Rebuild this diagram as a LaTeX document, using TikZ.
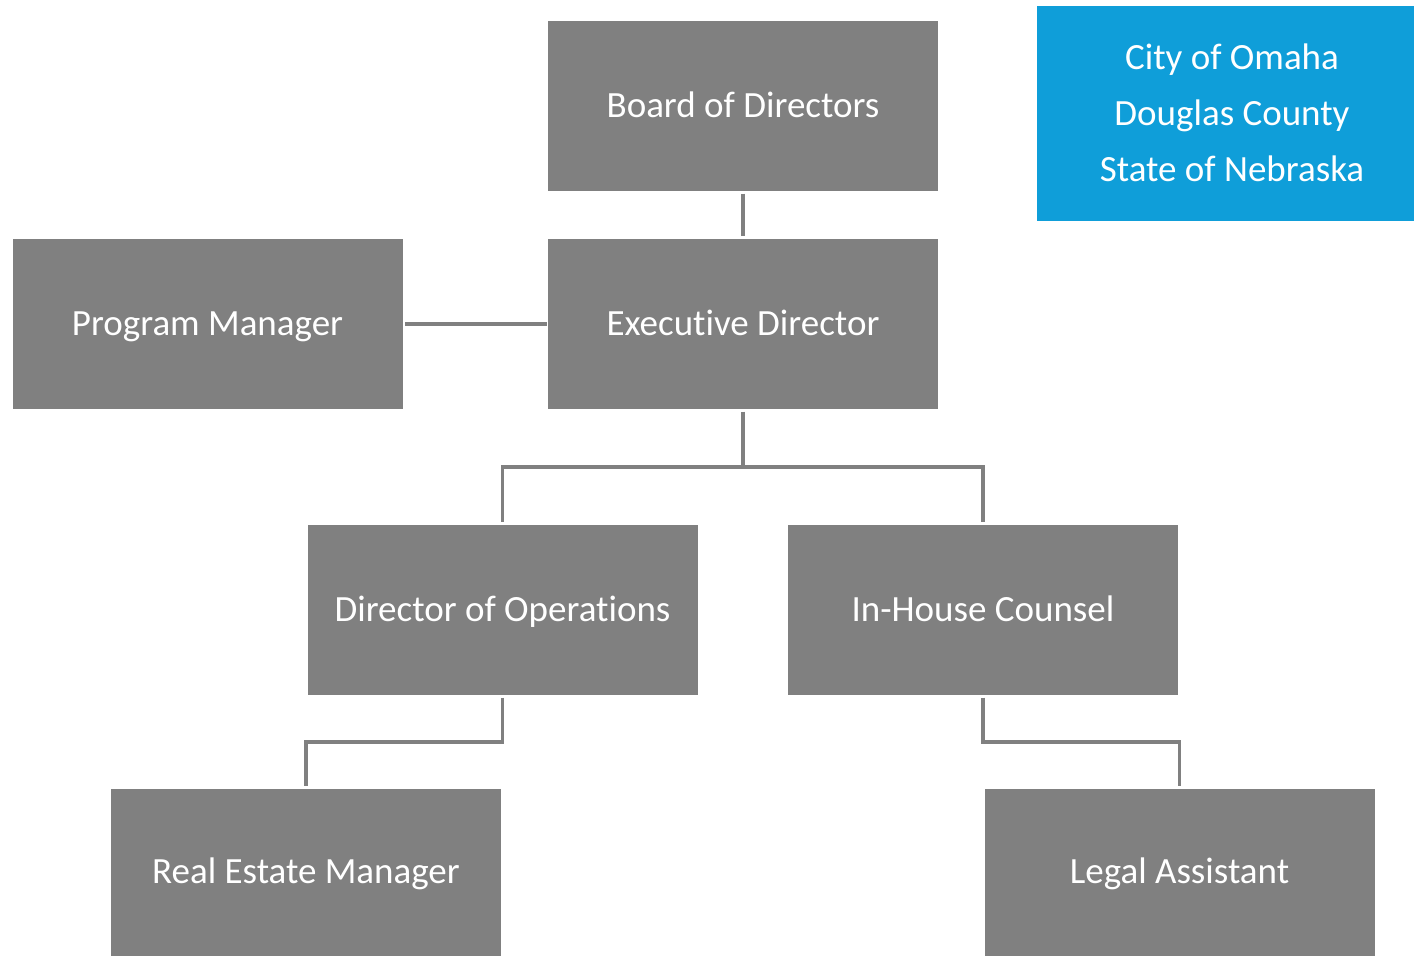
\documentclass[tikz,border=0pt]{standalone}
\usepackage{fontspec}
\setmainfont{Carlito}[Ligatures={NoCommon}]
\begin{document}
\begin{tikzpicture}[x=1pt,y=-1pt,
  role/.style={fill=boxgray,draw=none,minimum width=390pt,minimum height=170pt,
    text=white,font=\fontsize{37}{44}\selectfont,inner sep=0pt,
    text height=26pt,text depth=4pt},
  link/.style={draw=boxgray,line width=3.5pt},
]
\definecolor{boxgray}{HTML}{808080}
\definecolor{govblue}{HTML}{0F9ED9}
\useasboundingbox (0,0) rectangle (1414,956);
% boxes (centres in pixel units)
\node[role] (board) at (743,106) {Board of Directors};
\node[role] (exec)  at (743,324) {Executive Director};
\node[role] (pm)    at (207.5,324) {Program Manager};
\node[role] (ops)   at (502.5,610) {Director of Operations};
\node[role] (ihc)   at (983,610) {In-House Counsel};
\node[role,minimum height=167pt] (rem) at (306,872.5) {Real Estate Manager};
\node[role,minimum height=167pt] (legal) at (1179.5,872.5) {Legal Assistant};
% government partners box
\node[fill=govblue,minimum width=377pt,minimum height=215pt,inner sep=0pt] (gov) at (1225.5,113.5) {};
\node[text=white,font=\fontsize{37}{56}\selectfont,align=center,inner sep=0pt] (govtext) at (1232,113)
  {City of Omaha\\Douglas County\\State of Nebraska};
% connectors
\coordinate (split) at (743,467);
\coordinate (opsbend) at (502.5,742);
\coordinate (ihcbend) at (983,742);
\draw[link,shorten <=2.5pt,shorten >=2.5pt] (board.south) -- (exec.north);
\draw[link,shorten <=2.5pt,shorten >=1pt] (pm.east) -- (exec.west);
\draw[link,shorten <=2.5pt] (exec.south) -- (split);
\draw[link,shorten >=2.5pt] (split) -| (ops.north);
\draw[link,shorten >=2.5pt] (split) -| (ihc.north);
\draw[link,shorten <=2.5pt,shorten >=2.5pt] (ops.south) -- (opsbend) -| (rem.north);
\draw[link,shorten <=2.5pt,shorten >=2.5pt] (ihc.south) -- (ihcbend) -| (legal.north);
\end{tikzpicture}
\end{document}
